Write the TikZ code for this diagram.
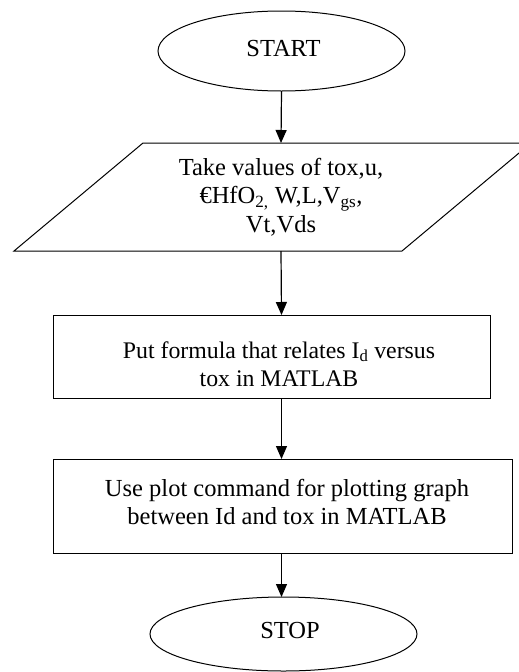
\documentclass[tikz,border=0pt]{standalone}
\usepackage{fontspec}
\setmainfont{Liberation Serif}
\usetikzlibrary{arrows.meta,shapes.geometric,positioning}

\begin{document}
\begin{tikzpicture}[x = 1pt, y = -1pt, line width=1pt,
  every node/.style={font=\fontsize{24.5}{28.5}\selectfont},
  smalltext/.style={font=\fontsize{23.8}{28.5}\selectfont},
  terminal/.style={ellipse,draw,inner sep=0pt,outer sep=0pt},
  procbox/.style={rectangle,draw,inner sep=0pt,outer sep=0pt},
  flow/.style={-{Triangle[length=13pt,width=11pt]}, line width=1.2pt}]
\useasboundingbox (0,0) rectangle (519,672);
\node[terminal,minimum width=247pt,minimum height=80pt] (start) at (281.5,51) {};
\node[align=center] (starttxt) at (283.5,49) {START};
% input parallelogram
\draw (14,251) -- (143,143) -- (531,143) -- (402,251) -- cycle;
\coordinate (intop) at (281,143);
\coordinate (inbot) at (281,251);
\node[align=center] (inputtxt) at (281,197) {Take values of tox,u,\\€HfO\textsubscript{2,} W,L,V\textsubscript{gs},\\Vt,Vds};
\node[procbox,minimum width=437pt,minimum height=83pt] (formula) at (271.5,356.5) {};
\node[align=center,smalltext] (formulatxt) at (279,364) {Put formula that relates I\textsubscript{d} versus\\tox in MATLAB};
\node[procbox,minimum width=459pt,minimum height=94pt] (plot) at (282.5,506) {};
\node[align=center] (plottxt) at (287,502) {Use plot command for plotting graph\\between Id and tox in MATLAB};
\node[terminal,minimum width=267pt,minimum height=74pt] (stop) at (283.5,634) {};
\node[align=center] (stoptxt) at (290,631) {STOP};
\draw[flow] (start.south) -- (intop);
\draw[flow] (inbot) -- (start |- formula.north);
\draw[flow] (start |- formula.south) -- (start |- plot.north);
\draw[flow] (start |- plot.south) -- (start |- stop.north);
\end{tikzpicture}
\end{document}
